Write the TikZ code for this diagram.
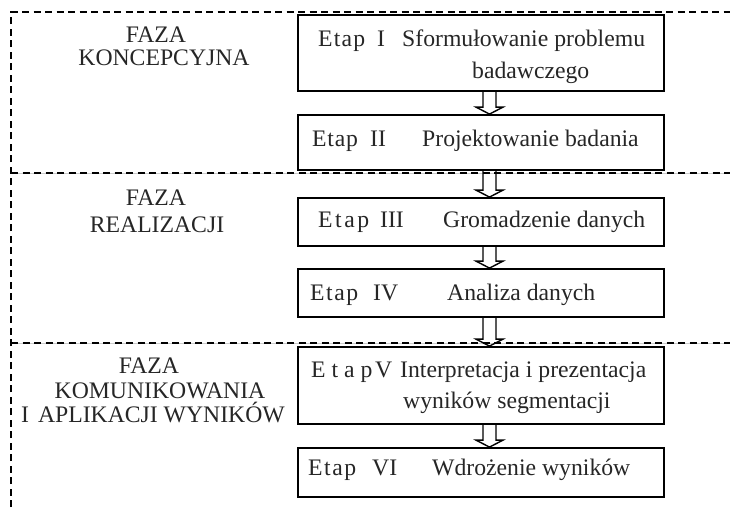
\documentclass[tikz,border=0pt]{standalone}
\usepackage{fontspec}
\setmainfont{Liberation Serif}
\usetikzlibrary{calc}

% letter-spaced word "Etap"
\newcommand\etapsp[1]{E\kern#1 t\kern#1 a\kern#1 p}

% hollow block arrow between two stage boxes
\newcommand\flowstep[2]{%
  \path[flowarrow] let \p1=(#1.south), \p2=(#2.north) in
    (483pt,\y1) -- (483pt,\y2+7pt) -- (476pt,\y2+7pt) -- (489.5pt,\y2)
    -- (503pt,\y2+7pt) -- (496pt,\y2+7pt) -- (496pt,\y1);}

\begin{document}
\begin{tikzpicture}[x=1pt,y=-1pt,
  every node/.style={font=\fontsize{23.7}{26}\selectfont, text=black!85, inner sep=0pt},
  stagebox/.style={draw=black, line width=1.8pt, minimum width=366pt},
  phasesep/.style={line width=1.3pt, dash pattern=on 7pt off 4.5pt},
  sepguide/.style={draw=gray!40, line width=0.6pt},
  flowarrow/.style={draw=black, line width=1.4pt, line join=miter},
  txt/.style={anchor=base west},
  lbl/.style={anchor=base}]

\useasboundingbox (0,0) rectangle (730,507);

% phase frame and separators
\draw[phasesep] (11,507) -- (11,12) -- (730,12);
\draw[sepguide] (11,173) -- (730,173);
\draw[phasesep] (11,173) -- (730,173);
\draw[sepguide] (11,343) -- (730,343);
\draw[phasesep] (11,343) -- (730,343);

% phase labels
\node[lbl] (f1a) at (156,42) {FAZA};
\node[lbl] (f1b) at (164,65) {KONCEPCYJNA};
\node[lbl] (f2a) at (156,205) {FAZA};
\node[lbl] (f2b) at (157,232) {REALIZACJI};
\node[lbl] (f3a) at (149,373) {FAZA};
\node[lbl] (f3b) at (160,398) {KOMUNIKOWANIA};
\node[lbl] (f3c) at (153,422) {I\hspace{9pt}APLIKACJI WYNIKÓW};

% stage boxes
\node[stagebox, minimum height=76pt] (b1) at (481,53) {};
\node[stagebox, minimum height=55pt] (b2) at (481,142.5) {};
\node[stagebox, minimum height=48pt] (b3) at (481,222) {};
\node[stagebox, minimum height=48pt] (b4) at (481,293) {};
\node[stagebox, minimum height=77pt] (b5) at (481,385.5) {};
\node[stagebox, minimum height=49pt] (b6) at (481,472.5) {};

% stage texts
\node[txt] (e1) at (318,46) {\etapsp{1.2pt}};
\node[txt] (n1) at (377,46) {I};
\node[txt] (t1) at (402,46) {Sformułowanie problemu};
\node[txt] (t1b) at (472,78) {badawczego};

\node[txt] (e2) at (312,146) {\etapsp{0.8pt}};
\node[txt] (n2) at (370,146) {II};
\node[txt] (t2) at (422,146) {Projektowanie badania};

\node[txt] (e3) at (318,227) {\etapsp{2.5pt}};
\node[txt] (n3) at (380,227) {III};
\node[txt] (t3) at (443,227) {Gromadzenie danych};

\node[txt] (e4) at (310,300) {\etapsp{1.5pt}};
\node[txt] (n4) at (373,300) {IV};
\node[txt] (t4) at (447,300) {Analiza danych};

\node[txt] (e5) at (311,377) {E t a p};
\node[txt] (n5) at (375,377) {V};
\node[txt] (t5) at (400,377) {Interpretacja i prezentacja};
\node[txt] (t5b) at (403,408) {wyników segmentacji};

\node[txt] (e6) at (308,475) {\etapsp{1.5pt}};
\node[txt] (n6) at (372,475) {VI};
\node[txt] (t6) at (432,475) {Wdrożenie wyników};

% flow between stages
\flowstep{b1}{b2}
\flowstep{b2}{b3}
\flowstep{b3}{b4}
\flowstep{b4}{b5}
\flowstep{b5}{b6}
\end{tikzpicture}
\end{document}
